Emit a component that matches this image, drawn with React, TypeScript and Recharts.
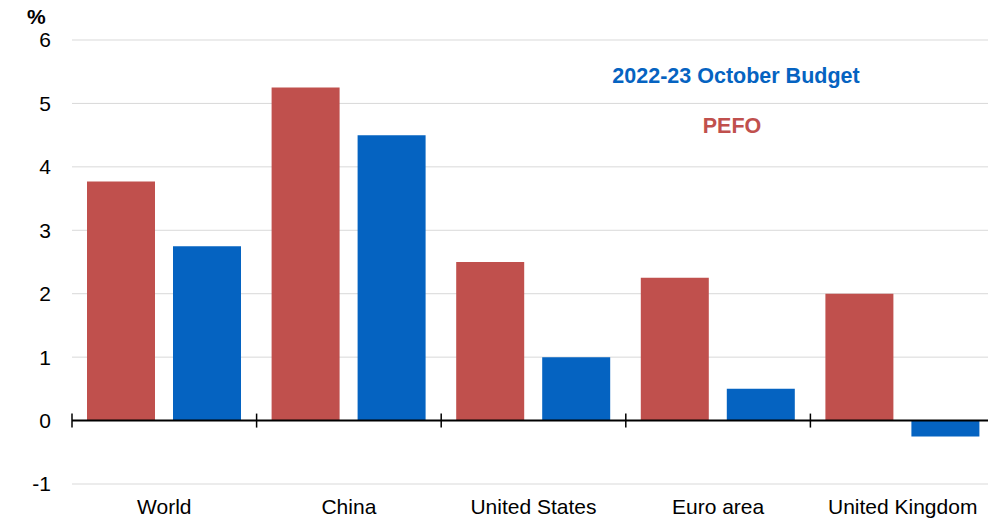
import { BarChart, Bar, XAxis, YAxis, CartesianGrid, ReferenceLine } from 'recharts'

const regions = ['World', 'China', 'United States', 'Euro area', 'United Kingdom']
const pefo = [3.77, 5.25, 2.5, 2.25, 2.0]
const budget = [2.75, 4.5, 1.0, 0.5, -0.25]
const yTicks = [-1, 0, 1, 2, 3, 4, 5, 6]

const RED = '#C0504D'
const BLUE = '#0563C1'
const FONT = '"Liberation Sans", Arial, sans-serif'

const data = regions.map((r, i) => ({ region: r, pefo: pefo[i], budget: budget[i] }))

// zero line with category separator ticks crossing it
function ZeroAxis(props: any) {
  const { x1, x2, y1 } = props
  const n = regions.length
  const step = (x2 - x1) / n
  const ticks = []
  for (let i = 0; i <= n; i++) {
    const x = x1 + i * step
    ticks.push(<line key={i} x1={x} x2={x} y1={y1 - 7} y2={y1 + 7} stroke="#000" strokeWidth={1.5} />)
  }
  return (
    <g>
      <line x1={x1} x2={x2} y1={y1} y2={y1} stroke="#000" strokeWidth={2} />
      {ticks}
    </g>
  )
}

export default function App() {
  return (
    <div style={{ position: 'absolute', left: 0, top: 0, width: 988, height: 523, overflow: 'hidden', background: '#fff', fontFamily: FONT }}>
      <BarChart
        width={995}
        height={523}
        data={data}
        margin={{ top: 40, right: 0, bottom: 0, left: 0 }}
        barCategoryGap={15}
        barGap={18}
      >
        <CartesianGrid vertical={false} stroke="#d9d9d9" />
        <XAxis
          dataKey="region"
          height={39}
          axisLine={false}
          tickLine={false}
          tickSize={0}
          tickMargin={15}
          interval={0}
          tick={{ fontSize: 21, fill: '#000', fontFamily: FONT }}
        />
        <YAxis
          width={72}
          domain={[-1, 6]}
          ticks={yTicks}
          axisLine={false}
          tickLine={false}
          tickSize={0}
          tickMargin={21}
          tick={{ fontSize: 21, fill: '#000', fontFamily: FONT }}
        />
        <Bar dataKey="pefo" fill={RED} isAnimationActive={false} />
        <Bar dataKey="budget" fill={BLUE} isAnimationActive={false} />
        <ReferenceLine y={0} shape={ZeroAxis} />
      </BarChart>
      <div style={{ position: 'absolute', left: 27, top: 5, fontSize: 21, fontWeight: 'bold' }}>%</div>
      <div style={{ position: 'absolute', left: 536, width: 400, top: 64, textAlign: 'center', fontSize: 21.5, fontWeight: 'bold', color: BLUE }}>
        2022-23 October Budget
      </div>
      <div style={{ position: 'absolute', left: 532, width: 400, top: 114, textAlign: 'center', fontSize: 21.5, fontWeight: 'bold', color: RED }}>
        PEFO
      </div>
    </div>
  )
}
